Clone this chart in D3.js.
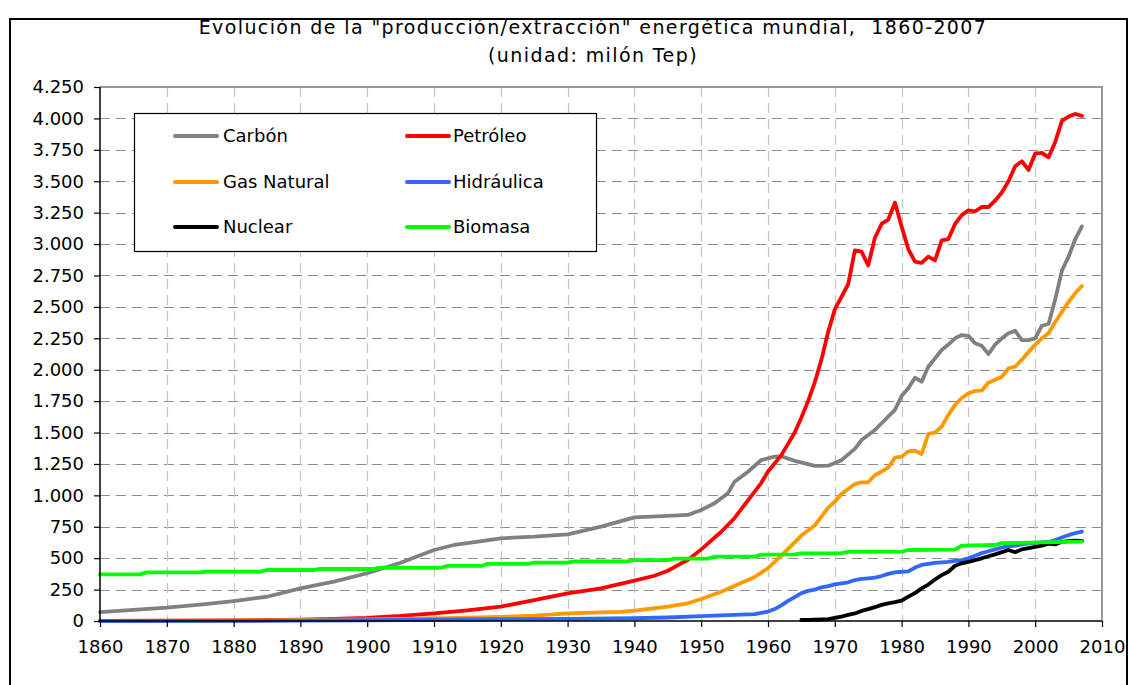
<!DOCTYPE html>
<html>
<head>
<meta charset="utf-8">
<script src="https://cdn.jsdelivr.net/npm/d3@7"></script>
<style>
  html, body { margin: 0; padding: 0; background: #fff; }
  svg { display: block; font-family: "DejaVu Sans", Verdana, sans-serif; }
</style>
</head>
<body>
<svg id="chart" width="1129" height="685"></svg>
<script>
// ---------- DATA ----------
const titleLines = ['Evolución de la "producción/extracción" energética mundial,  1860-2007', '(unidad: milón Tep)'];
const xTicks = [1860,1870,1880,1890,1900,1910,1920,1930,1940,1950,1960,1970,1980,1990,2000,2010];
const yTicks = [0,250,500,750,1000,1250,1500,1750,2000,2250,2500,2750,3000,3250,3500,3750,4000,4250];

const seriesNames = ["Carbón","Petróleo","Gas Natural","Hidráulica","Nuclear","Biomasa"];

const carbonYears = [1860,1865,1870,1875,1880,1885,1890,1895,1900,1905,1910,1913,1915,1920,1925,1930,1935,1940,1945,1948,1950,1952,1954,1955,1957,1959,1961,1962,1964,1967,1969,1971,1973,1974,1976,1979,1980,1981,1982,1983,1984,1985,1986,1987,1988,1989,1990,1991,1992,1993,1994,1995,1996,1997,1998,1999,2000,2001,2002,2003,2004,2005,2006,2007];
const carbonValues = [70,88,106,130,159,193,260,313,380,464,565,605,620,658,671,690,751,825,836,844,883,937,1016,1109,1188,1281,1308,1310,1275,1234,1236,1280,1370,1440,1520,1680,1790,1852,1936,1905,2024,2090,2157,2200,2250,2276,2270,2210,2190,2125,2200,2250,2290,2310,2236,2236,2250,2350,2364,2560,2789,2900,3040,3140];

const oilYears = [1860,1870,1880,1890,1895,1900,1905,1910,1915,1920,1925,1930,1935,1940,1943,1945,1947,1948,1950,1953,1955,1957,1959,1960,1962,1964,1965,1966,1967,1968,1969,1970,1971,1972,1973,1974,1975,1976,1977,1978,1979,1980,1981,1982,1983,1984,1985,1986,1987,1988,1989,1990,1991,1992,1993,1994,1995,1996,1997,1998,1999,2000,2001,2002,2003,2004,2005,2006,2007];
const oilValues = [1,2,4,10,16,25,40,61,85,114,167,220,260,321,360,400,459,485,570,710,820,960,1100,1190,1320,1500,1620,1750,1900,2080,2300,2480,2580,2680,2950,2940,2830,3050,3160,3195,3330,3140,2960,2860,2850,2900,2870,3030,3040,3160,3230,3268,3260,3295,3295,3345,3410,3500,3620,3659,3590,3720,3726,3690,3813,3980,4015,4035,4020];

const gasYears = [1860,1880,1885,1890,1900,1910,1920,1925,1930,1935,1938,1940,1945,1948,1950,1953,1958,1960,1961,1962,1964,1965,1967,1968,1969,1970,1971,1972,1973,1974,1975,1976,1977,1978,1979,1980,1981,1982,1983,1984,1985,1986,1987,1988,1989,1990,1991,1992,1993,1994,1995,1996,1997,1998,1999,2000,2001,2002,2003,2004,2005,2006,2007];
const gasValues = [0,2,5,8,12,20,32,42,60,68,72,82,114,141,175,233,350,420,470,520,625,680,760,830,900,950,1010,1050,1090,1104,1104,1160,1190,1220,1300,1308,1350,1355,1329,1490,1500,1546,1640,1720,1775,1812,1830,1835,1897,1920,1944,2010,2024,2080,2140,2200,2250,2290,2380,2460,2540,2610,2666];

const hydroYears = [1860,1880,1890,1900,1910,1920,1930,1940,1945,1950,1955,1958,1960,1961,1962,1963,1964,1965,1966,1967,1968,1969,1970,1971,1972,1973,1974,1975,1976,1977,1978,1979,1980,1981,1982,1983,1984,1985,1986,1987,1988,1989,1990,1991,1992,1993,1994,1995,1996,1997,1998,1999,2000,2001,2002,2003,2004,2005,2006,2007];
const hydroValues = [0,1,3,6,10,14,17,22,28,38,48,55,75,95,125,160,190,222,240,250,268,278,292,300,308,326,336,340,345,358,375,387,392,395,425,446,455,463,467,470,478,485,499,520,540,555,570,585,595,600,610,618,622,625,629,645,665,684,700,711];

const nuclearYears = [1965,1966,1967,1968,1969,1970,1971,1972,1973,1974,1975,1976,1977,1978,1979,1980,1981,1982,1983,1984,1985,1986,1987,1988,1989,1990,1991,1992,1993,1994,1995,1996,1997,1998,1999,2000,2001,2002,2003,2004,2005,2006,2007];
const nuclearValues = [8,9,10,12,15,25,35,48,60,80,95,110,128,141,150,162,194,222,260,290,330,365,392,440,459,470,485,499,515,530,548,565,547,570,580,590,600,615,610,630,635,640,638];

const biomassYears = [1860,1866,1867,1875,1876,1884,1885,1892,1893,1901,1902,1911,1912,1917,1918,1924,1925,1930,1931,1939,1940,1945,1946,1951,1952,1958,1959,1964,1965,1971,1972,1980,1981,1988,1989,1994,1995,2007];
const biomassValues = [371,371,387,387,393,393,406,406,414,414,424,424,438,438,454,454,464,464,475,475,485,485,496,496,512,512,528,531,538,540,550,552,565,568,600,605,620,631];

const seriesColors = ["#808080","#FF0000","#FF9900","#3366FF","#000000","#00FF00"];

// ---------- BUILD ----------
const series = [
  {name: seriesNames[0], color: seriesColors[0], data: d3.zip(carbonYears, carbonValues)},
  {name: seriesNames[1], color: seriesColors[1], data: d3.zip(oilYears, oilValues)},
  {name: seriesNames[2], color: seriesColors[2], data: d3.zip(gasYears, gasValues)},
  {name: seriesNames[3], color: seriesColors[3], data: d3.zip(hydroYears, hydroValues)},
  {name: seriesNames[4], color: seriesColors[4], data: d3.zip(nuclearYears, nuclearValues)},
  {name: seriesNames[5], color: seriesColors[5], data: d3.zip(biomassYears, biomassValues)}
];

const svg = d3.select("#chart");
const W = 1129, H = 685;
const plot = {left: 100, right: 1102, top: 87, bottom: 621};

svg.append("rect").attr("x",0).attr("y",0).attr("width",W).attr("height",H).attr("fill","#fff");
// outer frame
svg.append("rect").attr("x",10).attr("y",19).attr("width",1117).attr("height",700)
  .attr("fill","none").attr("stroke","#000").attr("stroke-width",2);

const x = d3.scaleLinear().domain([1860,2010]).range([plot.left, plot.right]);
const y = d3.scaleLinear().domain([0,4250]).range([plot.bottom, plot.top]);

const loc = d3.formatLocale({decimal: ",", thousands: ".", grouping: [3], currency: ["","€"]});
const fmt = loc.format(",d");

// title
svg.append("g").selectAll("text").data(titleLines).join("text")
  .attr("x", 593).attr("y", (d,i) => 34 + i*28)
  .attr("text-anchor","middle").attr("font-size", 19).attr("letter-spacing", 1.4)
  .style("white-space","pre")
  .attr("fill","#000")
  .text(d => d);

// gridlines
const grid = svg.append("g");
grid.selectAll("line.h").data(yTicks.filter(v => v > 0 && v < 4250)).join("line")
  .attr("class","h")
  .attr("x1", plot.left).attr("x2", plot.right)
  .attr("y1", d => Math.round(y(d)) + 0.5).attr("y2", d => Math.round(y(d)) + 0.5)
  .attr("stroke","#8c8c8c").attr("stroke-width",1).attr("stroke-dasharray","10,6");
grid.selectAll("line.v").data(xTicks.filter(v => v > 1860 && v < 2010)).join("line")
  .attr("class","v")
  .attr("x1", d => Math.round(x(d)) + 0.5).attr("x2", d => Math.round(x(d)) + 0.5)
  .attr("y1", plot.top).attr("y2", plot.bottom)
  .attr("stroke","#c4c4c4").attr("stroke-width",1.2).attr("stroke-dasharray","10,6");

// plot border top/right
svg.append("path")
  .attr("d", `M${plot.left},${plot.top}H${plot.right}V${plot.bottom}`)
  .attr("fill","none").attr("stroke","#999").attr("stroke-width",2);

// lines
const line = d3.line().x(d => x(d[0])).y(d => y(d[1]));
svg.append("g").selectAll("path").data(series).join("path")
  .attr("d", d => line(d.data))
  .attr("fill","none").attr("stroke", d => d.color)
  .attr("stroke-width",3.8).attr("stroke-linejoin","round").attr("stroke-linecap","round");

// axes
const yAxis = d3.axisLeft(y).tickValues(yTicks).tickSize(6).tickPadding(10).tickFormat(d => fmt(d));
const gy = svg.append("g").attr("transform",`translate(${plot.left},0)`).call(yAxis);
const xAxis = d3.axisBottom(x).tickValues(xTicks).tickSize(6).tickPadding(13).tickFormat(d3.format("d"));
const gx = svg.append("g").attr("transform",`translate(0,${plot.bottom})`).call(xAxis);
[gx, gy].forEach(g => {
  g.select(".domain").attr("stroke","#000").attr("stroke-width",1.5);
  g.selectAll(".tick line").attr("stroke","#000").attr("stroke-width",1.2);
  g.selectAll(".tick text").attr("font-size",18).attr("fill","#000")
    .attr("font-family",'"DejaVu Sans", Verdana, sans-serif');
});
gy.select(".domain").attr("d", `M0,${plot.top}V${plot.bottom}`);
gx.select(".domain").attr("d", `M${plot.left},0H${plot.right}`);

// legend
const lg = svg.append("g");
lg.append("rect").attr("x",134.5).attr("y",113.5).attr("width",462).attr("height",138)
  .attr("fill","#fff").attr("stroke","#000").attr("stroke-width",1.2);
const legRows = [136,182,227];
const legCols = [{lx:175, tx:223},{lx:407, tx:453}];
series.forEach((s,i) => {
  const r = Math.floor(i/2), c = i % 2;
  const g = lg.append("g");
  g.append("line").attr("x1", legCols[c].lx).attr("x2", legCols[c].lx + 42)
    .attr("y1", legRows[r]).attr("y2", legRows[r])
    .attr("stroke", s.color).attr("stroke-width",4).attr("stroke-linecap","round");
  g.append("text").attr("x", legCols[c].tx).attr("y", legRows[r])
    .attr("dy","0.36em").attr("font-size",18).attr("fill","#000").text(s.name);
});
</script>
</body>
</html>
